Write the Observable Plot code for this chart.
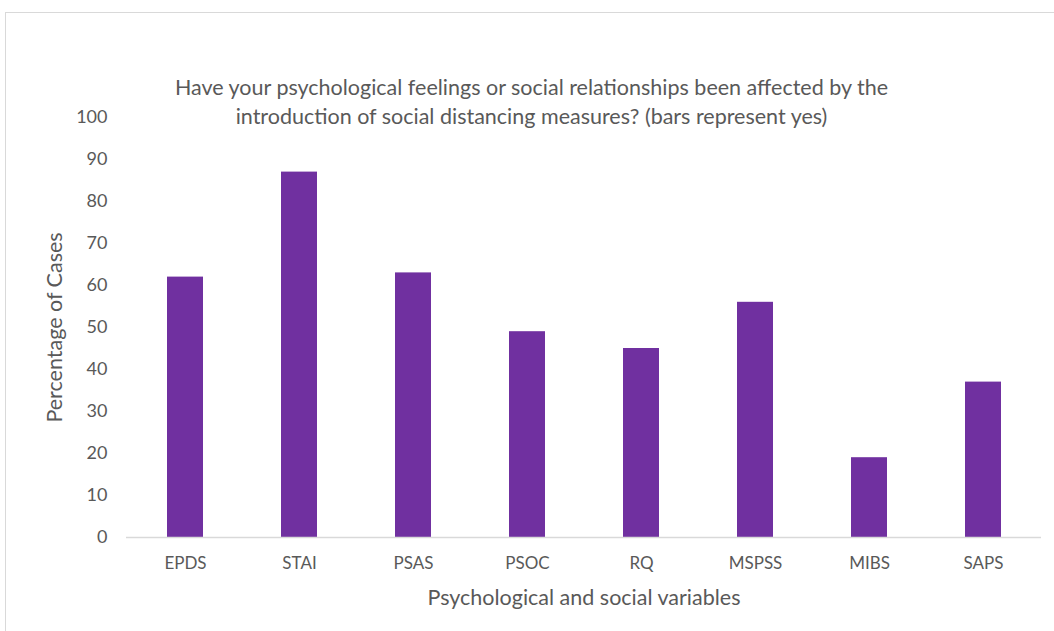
<!DOCTYPE html>
<html>
<head>
<meta charset="utf-8">
<script src="https://cdn.jsdelivr.net/npm/d3@7"></script>
<script src="https://cdn.jsdelivr.net/npm/@observablehq/plot@0.6"></script>
<style>
  html, body { margin: 0; padding: 0; background: #fff; }
  #wrap { position: relative; width: 1054px; height: 631px; overflow: hidden; }
  #frame { position: absolute; left: 5px; top: 12px; width: 1100px; height: 700px; border: 1px solid #d9d9d9; box-sizing: border-box; }
  #chart { position: absolute; left: 0; top: 0; }
</style>
</head>
<body>
<div id="wrap"><div id="frame"></div><div id="chart"></div></div>
<script>
const categories = ["EPDS", "STAI", "PSAS", "PSOC", "RQ", "MSPSS", "MIBS", "SAPS"];
const values = [62, 87, 63, 49, 45, 56, 19, 37];
const yTicks = [0, 10, 20, 30, 40, 50, 60, 70, 80, 90, 100];
const titleText = "Have your psychological feelings or social relationships been affected by the\nintroduction of social distancing measures? (bars represent yes)";
const xLabel = "Psychological and social variables";
const yLabel = "Percentage of Cases";

const data = categories.map((c, i) => ({category: c, value: values[i]}));
const textColor = "#595959";

const chart = Plot.plot({
  width: 1054,
  height: 631,
  marginLeft: 126,
  marginRight: 13,
  marginTop: 117,
  marginBottom: 94,
  style: {fontFamily: "Lato, sans-serif", color: textColor, background: "transparent"},
  x: {domain: categories, paddingInner: 0.685, paddingOuter: 0.3425},
  y: {domain: [0, 100]},
  marks: [
    Plot.barY(data, {x: "category", y: "value", fill: "#7030A0"}),
    Plot.ruleY([0], {stroke: "#d9d9d9", strokeWidth: 1.5}),
    Plot.axisY({ticks: yTicks, tickSize: 0, tickPadding: 19, fontSize: 18, label: null}),
    Plot.axisX({tickSize: 0, tickPadding: 19, fontSize: 17, label: null}),
    Plot.text([yLabel], {frameAnchor: "left", rotate: -90, dx: -71, fontSize: 21.5, fill: textColor, textAnchor: "middle", lineAnchor: "middle"}),
    Plot.text([xLabel], {frameAnchor: "bottom", dy: 61, fontSize: 21.5, fill: textColor, lineAnchor: "middle"}),
    Plot.text([titleText], {frameAnchor: "top", dx: -52.5, dy: -17.5, fontSize: 21.5, fill: textColor, lineAnchor: "middle", lineHeight: 1.35})
  ]
});
document.getElementById("chart").appendChild(chart);
</script>
</body>
</html>
